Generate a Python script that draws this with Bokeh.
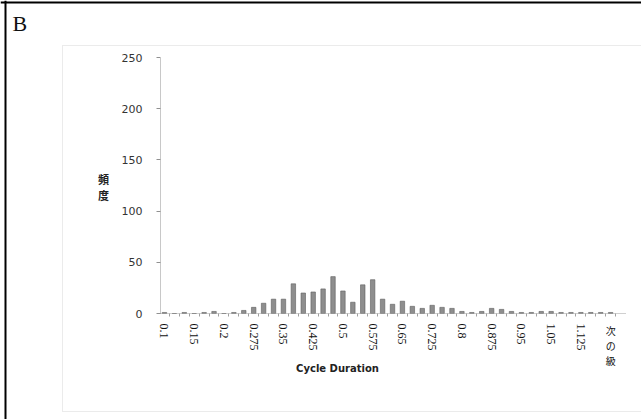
import numpy as np
from bokeh.plotting import figure
from bokeh.models import (ColumnDataSource, FixedTicker, Label, BoxAnnotation,
                          Span, Range1d)
from bokeh.embed import file_html
from bokeh.resources import INLINE

# Histogram of cycle durations (bins of equal width, last bin = overflow)
tick_labels = ["0.1", "0.15", "0.2", "0.275", "0.35", "0.425", "0.5", "0.575",
               "0.65", "0.725", "0.8", "0.875", "0.95", "1.05", "1.125", "次の級"]
counts = [1, 0, 1, 0, 1, 2, 0, 1, 3, 6,
          10, 14, 14, 29, 20, 21, 24, 36, 22, 11,
          28, 33, 14, 9, 12, 7, 5, 8, 6, 5,
          2, 1, 2, 5, 4, 2, 1, 1, 2, 2,
          1, 1, 1, 1, 1, 1]
label_step = 3
y_ticks = [0, 50, 100, 150, 200, 250]

W, H = 641, 419
# plot area inside the panel (page pixels from the top-left)
AX_LEFT, AX_RIGHT, AX_TOP, AX_BOTTOM = 160, 625, 57, 313
X_LO, X_HI = -0.4, 46.5
Y_LO, Y_HI = 0, 250

# the frame spans the whole panel so the surrounding texts and borders are not cut off
px_x = (AX_RIGHT - AX_LEFT) / (X_HI - X_LO)
px_y = (AX_BOTTOM - AX_TOP) / (Y_HI - Y_LO)
x_range = Range1d(X_LO - AX_LEFT / px_x, X_HI + (W - AX_RIGHT) / px_x)
y_range = Range1d(Y_LO - (H - AX_BOTTOM) / px_y, Y_HI + AX_TOP / px_y)

bin_pos = np.arange(len(counts))
src = ColumnDataSource(dict(x=bin_pos, top=counts))

p = figure(width=W, height=H, output_backend="svg", toolbar_location=None,
           x_range=x_range, y_range=y_range,
           min_border=0, min_border_left=0, min_border_right=0,
           min_border_top=0, min_border_bottom=0)
p.outline_line_color = None
p.xgrid.visible = False
p.ygrid.visible = False
p.background_fill_color = "white"
p.border_fill_color = "white"


def at(x, y):
    # page pixel position (from top-left) -> screen units (from bottom-left)
    return dict(x=x, y=H - y, x_units="screen", y_units="screen")


# outer panel border: left and top rules only
p.add_layout(Span(location=5, location_units="screen", dimension="height",
                  line_color="#000000", line_width=2))
p.add_layout(Span(location=H - 2, location_units="screen", dimension="width",
                  line_color="#000000", line_width=2))
# dotted chart-area box
p.add_layout(BoxAnnotation(left=62, right=W + 20, top=H - 45, bottom=H - 411,
                           left_units="screen", right_units="screen",
                           top_units="screen", bottom_units="screen",
                           fill_alpha=0, line_color="#7a7a7a", line_width=1,
                           line_dash="1 1"))

p.vbar(x="x", top="top", width=0.45, source=src,
       fill_color="#8e8e8e", line_color="#5e5e5e", line_width=0.6)

# y axis, pinned to the left end of the bins
yax = p.yaxis[0]
yax.fixed_location = X_LO
yax.bounds = (Y_LO, Y_HI)
yax.ticker = FixedTicker(ticks=y_ticks)
yax.axis_line_color = "#909090"
yax.axis_line_dash = "1 1"
yax.major_tick_out = 4
yax.major_tick_in = 0
yax.major_tick_line_color = "#909090"
yax.minor_tick_line_color = None
yax.major_label_text_font = "DejaVu Sans"
yax.major_label_text_font_size = "11px"
yax.major_label_text_color = "#333333"
yax.major_label_standoff = 14

# x axis at zero: a label every third bin, small marks between bins
label_pos = list(range(0, len(counts), label_step))
xax = p.xaxis[0]
xax.fixed_location = Y_LO
xax.bounds = (X_LO, X_HI)
xax.ticker = FixedTicker(ticks=label_pos,
                         minor_ticks=[i + 0.5 for i in range(len(counts))])
xax.major_label_overrides = {pos: (lab if i < len(tick_labels) - 1 else "")
                             for i, (pos, lab) in enumerate(zip(label_pos, tick_labels))}
xax.major_label_orientation = -np.pi / 2
xax.axis_line_color = "#a0a0a0"
xax.axis_line_dash = "1 1"
xax.major_tick_out = 0
xax.major_tick_in = 0
xax.minor_tick_out = 3
xax.minor_tick_in = 0
xax.minor_tick_line_color = "#a0a0a0"
xax.major_label_text_font = "Liberation Serif"
xax.major_label_text_font_size = "12px"
xax.major_label_text_color = "#111111"
xax.major_label_standoff = 7

# overflow bin label, characters stacked
p.add_layout(Label(x=label_pos[-1], x_units="data", y=H - 322, y_units="screen",
                   text="次\nの\n級", text_align="center", text_baseline="top",
                   text_font="Noto Sans CJK JP", text_font_size="10px",
                   text_line_height=1.0, text_color="#111111"))

p.add_layout(Label(text="Cycle Duration", text_align="center", text_baseline="middle",
                   text_font="DejaVu Sans", text_font_style="bold",
                   text_font_size="10px", text_color="#222222", **at(337, 368)))

p.add_layout(Label(text="頻\n度", text_align="center", text_baseline="middle",
                   text_font="Noto Sans CJK JP", text_font_style="bold",
                   text_font_size="11px", text_line_height=1.0, text_color="#222222",
                   **at(103, 186)))

p.add_layout(Label(text="B", text_align="left", text_baseline="top",
                   text_font="Liberation Serif", text_font_size="22px",
                   text_color="#111111", **at(12, 10)))

open("out.html", "w").write(file_html(p, INLINE))
